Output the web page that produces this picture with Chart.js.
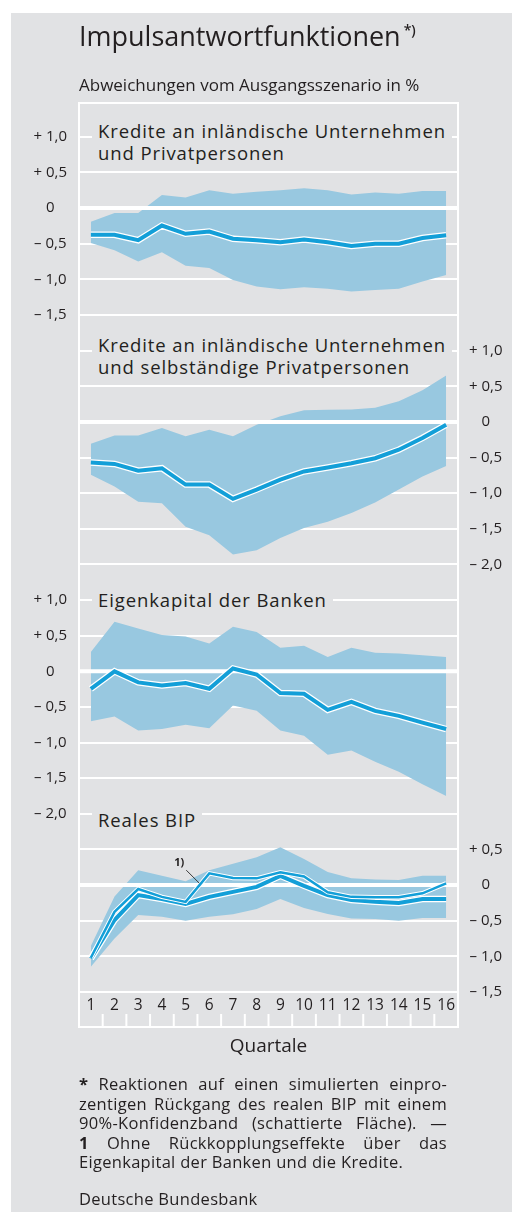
<!DOCTYPE html>
<html lang="de">
<head>
<meta charset="utf-8">
<title>Impulsantwortfunktionen</title>
<script src="https://cdn.jsdelivr.net/npm/chart.js@4.4.1/dist/chart.umd.min.js"></script>
<style>
  html, body { margin: 0; padding: 0; background: #fff; }
  body { width: 512px; height: 1212px; position: relative; overflow: hidden;
         font-family: 'Open Sans', sans-serif; color: #231f20; }
  #bg { position: absolute; left: 11px; top: 13px; right: 0; bottom: 0; background: #e1e2e4; }
  canvas { position: absolute; left: 0; top: 0; }
  .txt { position: absolute; white-space: nowrap; }
  #titel { left: 79px; top: 21px; font-size: 27px; line-height: 30px; }
  #titel sup { font-size: 14px; font-weight: 600; vertical-align: 0; position: relative; top: -11px; margin-left: 3px; }
  #untertitel { left: 79px; top: 75px; font-size: 17px; line-height: 20px; }
  .ptitel { position: absolute; left: 92px; font-size: 18.5px; letter-spacing: 0.9px; line-height: 22px; white-space: nowrap; }
  .ptitel span { background: #e1e2e4; padding: 0 6px;
                 -webkit-box-decoration-break: clone; box-decoration-break: clone; }
  #quartale { left: 79px; width: 379px; top: 1034px; font-size: 19px; line-height: 22px; text-align: center; }
  #fussnote { position: absolute; left: 79px; width: 368px; top: 1074px; font-size: 16.5px; letter-spacing: 0.3px; line-height: 19.6px; }
  #fussnote div { text-align: justify; text-align-last: justify; white-space: nowrap; }
  #fussnote div.letzte { text-align-last: left; }
  #quelle { left: 79px; top: 1189px; font-size: 16.5px; letter-spacing: 0.3px; line-height: 19.6px; }
</style>
</head>
<body>
<div id="bg"></div>
<canvas id="chart" width="512" height="1212"></canvas>

<div id="titel" class="txt">Impulsantwortfunktionen<sup>*)</sup></div>
<div id="untertitel" class="txt">Abweichungen vom Ausgangsszenario in %</div>

<div class="ptitel" style="top:120px"><span>Kredite an inländische Unternehmen<br>und Privatpersonen</span></div>
<div class="ptitel" style="top:334px"><span>Kredite an inländische Unternehmen<br>und selbständige Privatpersonen</span></div>
<div class="ptitel" style="top:589px"><span>Eigenkapital der Banken</span></div>
<div class="ptitel" style="top:809px"><span>Reales BIP</span></div>

<div id="quartale" class="txt">Quartale</div>

<div id="fussnote">
  <div><b>*</b> Reaktionen auf einen simulierten einpro-</div>
  <div>zentigen Rückgang des realen BIP mit einem</div>
  <div>90%-Konfidenzband (schattierte Fläche). —</div>
  <div><b>1</b> Ohne Rückkopplungseffekte über das</div>
  <div class="letzte">Eigenkapital der Banken und die Kredite.</div>
</div>
<div id="quelle" class="txt">Deutsche Bundesbank</div>

<script>
// ---- Daten ----
const quartale = ['1', '2', '3', '4', '5', '6', '7', '8', '9', '10', '11', '12', '13', '14', '15', '16'];

// Kredite an inländische Unternehmen und Privatpersonen
const kreditMitte  = [-0.375, -0.375, -0.45, -0.245, -0.36, -0.33, -0.43, -0.45, -0.48, -0.44, -0.48, -0.53, -0.50, -0.50, -0.42, -0.38];
const kreditOben   = [-0.19, -0.07, -0.07, 0.185, 0.15, 0.25, 0.20, 0.23, 0.25, 0.28, 0.25, 0.19, 0.22, 0.20, 0.24, 0.24];
const kreditUnten  = [-0.49, -0.59, -0.75, -0.62, -0.81, -0.84, -1.01, -1.10, -1.14, -1.11, -1.13, -1.17, -1.15, -1.13, -1.03, -0.94];

// Kredite an inländische Unternehmen und selbständige Privatpersonen
const selbMitte    = [-0.57, -0.59, -0.685, -0.65, -0.88, -0.88, -1.08, -0.95, -0.81, -0.695, -0.64, -0.58, -0.51, -0.39, -0.225, -0.04];
const selbOben     = [-0.305, -0.19, -0.19, -0.085, -0.20, -0.11, -0.20, -0.04, 0.08, 0.165, 0.17, 0.175, 0.20, 0.29, 0.445, 0.65];
const selbUnten    = [-0.74, -0.905, -1.12, -1.14, -1.47, -1.59, -1.86, -1.80, -1.63, -1.49, -1.40, -1.28, -1.13, -0.95, -0.765, -0.62];

// Eigenkapital der Banken
const eigenMitte   = [-0.245, 0.0, -0.155, -0.20, -0.165, -0.245, 0.04, -0.045, -0.305, -0.315, -0.54, -0.43, -0.555, -0.625, -0.72, -0.81];
const eigenOben    = [0.27, 0.695, 0.60, 0.51, 0.49, 0.39, 0.625, 0.55, 0.33, 0.36, 0.20, 0.33, 0.26, 0.25, 0.225, 0.20];
const eigenUnten   = [-0.70, -0.635, -0.83, -0.81, -0.75, -0.80, -0.48, -0.555, -0.83, -0.905, -1.17, -1.11, -1.27, -1.41, -1.585, -1.75];

// Reales BIP (+ Variante ohne Rückkopplung, Fußnote 1)
const bipMitte     = [-1.03, -0.49, -0.14, -0.195, -0.265, -0.165, -0.095, -0.025, 0.13, -0.01, -0.14, -0.21, -0.235, -0.25, -0.195, -0.195];
const bipOhne      = [-1.02, -0.375, -0.055, -0.165, -0.235, 0.165, 0.10, 0.095, 0.18, 0.12, -0.10, -0.165, -0.17, -0.17, -0.115, 0.025];
const bipOben      = [-0.855, -0.16, 0.21, 0.13, 0.055, 0.21, 0.30, 0.39, 0.53, 0.365, 0.185, 0.095, 0.08, 0.07, 0.13, 0.13];
const bipUnten     = [-1.145, -0.75, -0.42, -0.445, -0.50, -0.445, -0.41, -0.335, -0.195, -0.32, -0.405, -0.47, -0.475, -0.50, -0.46, -0.46];

// Achsenbeschriftung je Feld
const ticksKredit  = [1, 0.5, 0, -0.5, -1, -1.5];
const ticksSelb    = [1, 0.5, 0, -0.5, -1, -1.5, -2];
const ticksEigen   = [1, 0.5, 0, -0.5, -1, -1.5, -2];
const ticksBip     = [0.5, 0, -0.5, -1, -1.5];

// ---- Layout ----
// alle Felder teilen ein Raster aus 0,5-Schritten; Index der Nulllinie je Feld
const NULL_IDX = [2, 8, 15, 21];
const RASTER_OBEN = -0.95;   // Raster-Index an der Oberkante der Zeichenfläche
const RASTER_UNTEN = 24;     // letzte Rasterlinie = Unterkante

const FONT = "'Open Sans', sans-serif";
const INK = '#231f20';
const BAND = '#98c8e0';
const BLAU = '#139fd8';
const WEISS = '#ffffff';

function fmt(v) {
  if (v === 0) return '0';
  const s = Math.abs(v).toFixed(1).replace('.', ',');
  return (v > 0 ? '+ ' : '\u2013 ') + s;
}

const labelsLinks = {}, labelsRechts = {};
[[0, ticksKredit, labelsLinks], [1, ticksSelb, labelsRechts],
 [2, ticksEigen, labelsLinks], [3, ticksBip, labelsRechts]].forEach(([p, werte, ziel]) => {
  werte.forEach(v => { ziel[NULL_IDX[p] - 2 * v] = fmt(v); });
});
const rasterIdx = [];
for (let i = 0; i <= RASTER_UNTEN; i++) rasterIdx.push(i);

function feldSkala(p) {
  return { display: false, min: (NULL_IDX[p] - RASTER_UNTEN) / 2, max: (NULL_IDX[p] - RASTER_OBEN) / 2 };
}

function band(daten, achse) {
  return { data: daten, yAxisID: achse, borderWidth: 0, pointRadius: 0, backgroundColor: BAND, fill: false, order: 10 };
}
function linie(daten, achse, breite, farbe, ord) {
  return { data: daten, yAxisID: achse, borderColor: farbe, borderWidth: breite, pointRadius: 0,
           fill: false, tension: 0, borderJoinStyle: 'miter', order: ord };
}

const datasets = [];
[[kreditUnten, kreditOben, kreditMitte, 'p1'],
 [selbUnten, selbOben, selbMitte, 'p2'],
 [eigenUnten, eigenOben, eigenMitte, 'p3'],
 [bipUnten, bipOben, bipMitte, 'p4']].forEach(([u, o, m, ax]) => {
  datasets.push(band(u, ax));
  datasets.push(Object.assign(band(o, ax), { fill: '-1' }));
  datasets.push(linie(m, ax, 6.5, WEISS, 4));
  datasets.push(linie(m, ax, 4, BLAU, 3));
});
datasets.push(linie(bipOhne, 'p4', 4.5, WEISS, 2));
const ohneIndex = datasets.length;
datasets.push(linie(bipOhne, 'p4', 2.5, BLAU, 1));

// Rahmen, Nulllinien, Teilstriche unten, Hinweislinie "1)"
const rahmen = {
  id: 'rahmen',
  beforeDatasetsDraw(chart) {
    const { ctx, chartArea: a } = chart;
    ctx.save();
    ctx.strokeStyle = WEISS;
    ctx.lineWidth = 4;
    ['p1', 'p2', 'p3', 'p4'].forEach(id => {
      const y = chart.scales[id].getPixelForValue(0);
      ctx.beginPath(); ctx.moveTo(a.left, y); ctx.lineTo(a.right, y); ctx.stroke();
    });
    ctx.restore();
  },
  afterDraw(chart) {
    const { ctx, chartArea: a } = chart;
    const xs = chart.scales.x;
    ctx.save();
    ctx.strokeStyle = WEISS;
    ctx.lineWidth = 2;
    ctx.strokeRect(a.left, a.top, a.right - a.left, xs.bottom - a.top);
    for (let k = 0; k < quartale.length - 1; k++) {
      const x = (xs.getPixelForTick(k) + xs.getPixelForTick(k + 1)) / 2;
      ctx.beginPath(); ctx.moveTo(x, xs.bottom - 13); ctx.lineTo(x, xs.bottom); ctx.stroke();
    }
    // Hinweis 1)
    const pts = chart.getDatasetMeta(ohneIndex).data;
    const t = 0.62;
    const ex = pts[4].x + (pts[5].x - pts[4].x) * t;
    const ey = pts[4].y + (pts[5].y - pts[4].y) * t;
    ctx.strokeStyle = '#3a3a3a';
    ctx.lineWidth = 1;
    ctx.beginPath(); ctx.moveTo(ex - 14, ey - 14); ctx.lineTo(ex - 1, ey - 1); ctx.stroke();
    ctx.fillStyle = INK;
    ctx.font = 'bold 11px ' + FONT;
    ctx.textAlign = 'center';
    ctx.textBaseline = 'middle';
    ctx.fillText('1)', ex - 21, ey - 21);
    ctx.restore();
  }
};

new Chart(document.getElementById('chart'), {
  type: 'line',
  data: { labels: quartale, datasets },
  options: {
    responsive: false,
    animation: false,
    events: [],
    layout: { padding: { top: 103, bottom: 185, left: 0, right: 0 } },
    plugins: {
      legend: { display: false },
      tooltip: { enabled: false },
      filler: { drawTime: 'beforeDatasetsDraw', propagate: false }
    },
    scales: {
      x: {
        type: 'category', offset: true,
        grid: { display: false, drawTicks: false }, border: { display: false },
        ticks: { color: INK, font: { size: 15.5, family: FONT }, padding: 4, maxRotation: 0, autoSkip: false },
        afterFit: s => { s.height = 35; }
      },
      yl: {
        type: 'linear', position: 'left', reverse: true, min: RASTER_OBEN, max: RASTER_UNTEN,
        afterBuildTicks: s => { s.ticks = rasterIdx.map(v => ({ value: v })); },
        afterFit: s => { s.width = 79; },
        grid: { color: WEISS, lineWidth: 2, drawTicks: false },
        border: { display: false },
        ticks: { color: INK, font: { size: 15, family: FONT }, crossAlign: 'center', padding: 12,
                 callback: v => labelsLinks[v] || '' }
      },
      yr: {
        type: 'linear', position: 'right', reverse: true, min: RASTER_OBEN, max: RASTER_UNTEN,
        afterBuildTicks: s => { s.ticks = rasterIdx.map(v => ({ value: v })); },
        afterFit: s => { s.width = 54; },
        grid: { display: false, drawTicks: false },
        border: { display: false },
        ticks: { color: INK, font: { size: 15, family: FONT }, crossAlign: 'center', padding: 11,
                 callback: v => labelsRechts[v] || '' }
      },
      p1: feldSkala(0),
      p2: feldSkala(1),
      p3: feldSkala(2),
      p4: feldSkala(3)
    }
  },
  plugins: [rahmen]
});
</script>
</body>
</html>
